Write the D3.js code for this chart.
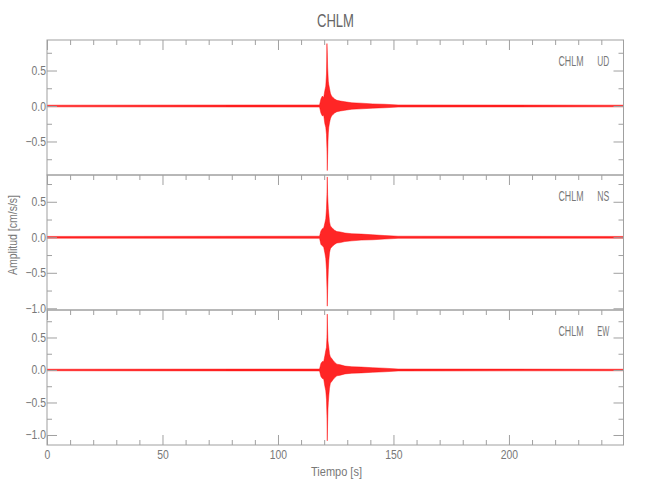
<!DOCTYPE html>
<html>
<head>
<meta charset="utf-8">
<script src="https://cdn.jsdelivr.net/npm/d3@7/dist/d3.min.js"></script>
<style>
  body { margin: 0; background: #fff; }
  svg { display: block; }
  text { font-family: "Liberation Sans", Arial, sans-serif; }
</style>
</head>
<body>
<svg id="chart" width="650" height="500"></svg>
<script>
// ---------------- data ----------------
const STATION = "CHLM";
const COMPONENTS = ["UD", "NS", "EW"];
const X_RANGE = [0, 249.6];
const Y_MIN = [-0.972, -1.024, -1.154];
const Y_MAX = [0.93, 0.877, 0.923];
const X_MAJOR = [0, 50, 100, 150, 200];
const Y_MAJOR = [-1.0, -0.5, 0.0, 0.5];
const Y_MINOR = [-0.75, -0.25, 0.25, 0.75];

// envelope of the traces (time in s, upper / lower amplitude in cm/s/s)
const TIME = [0, 118.0, 118.6, 119.2, 119.8, 120.3, 120.7, 121.0, 121.2, 121.35, 121.5, 121.65, 121.8, 122.0, 122.3, 122.7, 123.2, 123.8, 124.5, 125.5, 127, 129, 132, 136, 141, 146, 152, 249.6];
const UD_UP = [0.012, 0.015, 0.10, 0.14, 0.12, 0.22, 0.28, 0.45, 0.88, 0.75, 0.55, 0.45, 0.35, 0.30, 0.25, 0.18, 0.14, 0.12, 0.10, 0.08, 0.07, 0.06, 0.045, 0.04, 0.03, 0.025, 0.015, 0.012];
const UD_LO = [-0.012, -0.015, -0.10, -0.14, -0.13, -0.25, -0.30, -0.40, -0.60, -0.91, -0.70, -0.50, -0.38, -0.30, -0.24, -0.18, -0.14, -0.12, -0.10, -0.08, -0.07, -0.06, -0.045, -0.04, -0.03, -0.025, -0.015, -0.012];
const NS_UP = [0.012, 0.015, 0.09, 0.12, 0.13, 0.20, 0.26, 0.40, 0.60, 0.85, 0.60, 0.50, 0.40, 0.33, 0.22, 0.16, 0.14, 0.12, 0.10, 0.08, 0.075, 0.06, 0.05, 0.045, 0.035, 0.025, 0.015, 0.012];
const NS_LO = [-0.012, -0.015, -0.10, -0.12, -0.14, -0.22, -0.30, -0.45, -0.70, -0.97, -0.75, -0.60, -0.45, -0.33, -0.22, -0.16, -0.14, -0.12, -0.10, -0.08, -0.075, -0.06, -0.05, -0.04, -0.035, -0.025, -0.015, -0.012];
const EW_UP = [0.012, 0.015, 0.10, 0.13, 0.13, 0.22, 0.30, 0.35, 0.50, 0.86, 0.60, 0.45, 0.40, 0.35, 0.25, 0.20, 0.18, 0.15, 0.12, 0.09, 0.08, 0.06, 0.05, 0.045, 0.035, 0.028, 0.015, 0.012];
const EW_LO = [-0.012, -0.015, -0.10, -0.13, -0.14, -0.25, -0.32, -0.45, -0.70, -1.09, -0.80, -0.60, -0.50, -0.40, -0.28, -0.20, -0.18, -0.15, -0.12, -0.09, -0.08, -0.06, -0.05, -0.045, -0.035, -0.028, -0.015, -0.012];
const UPPER = [UD_UP, NS_UP, EW_UP];
const LOWER = [UD_LO, NS_LO, EW_LO];

// ---------------- layout ----------------
const svg = d3.select("#chart");
const left = 47, right = 623.5;
const panelTop = [40, 175, 310];
const panelH = 135;
const axisColor = "#a0a0a0";
const textColor = "#787878";

const x = d3.scaleLinear().domain(X_RANGE).range([left, right]);
const xMinor = d3.range(0, 250, 10).filter(v => !X_MAJOR.includes(v));
const fmt = d3.format(".1f");

function squeeze(sel, f) {
  sel.each(function () {
    const w = this.getComputedTextLength();
    d3.select(this).attr("textLength", w * f).attr("lengthAdjust", "spacingAndGlyphs");
  });
}

svg.append("text")
  .attr("x", 335.5).attr("y", 27.3)
  .attr("text-anchor", "middle")
  .attr("font-size", 18).attr("fill", "#666")
  .attr("textLength", 37).attr("lengthAdjust", "spacingAndGlyphs")
  .text(STATION);

function styleAxis(g) {
  g.select(".domain").remove();
  g.selectAll("line").attr("stroke", axisColor).attr("stroke-width", 1);
  g.selectAll("text").attr("fill", textColor).attr("font-size", 12.5);
  squeeze(g.selectAll("text"), 0.83);
}

COMPONENTS.forEach((comp, i) => {
  const top = panelTop[i], bot = top + panelH;
  const y = d3.scaleLinear().domain([Y_MIN[i], Y_MAX[i]]).range([bot, top]);
  const g = svg.append("g");

  const clipId = "clip" + i;
  g.append("clipPath").attr("id", clipId)
    .append("rect").attr("x", left).attr("y", top).attr("width", right - left).attr("height", panelH);

  const rows = TIME.map((t, k) => ({ t, hi: UPPER[i][k], lo: LOWER[i][k] }));
  const area = d3.area().x(d => x(d.t)).y0(d => y(d.lo)).y1(d => y(d.hi));
  g.append("path").datum(rows)
    .attr("clip-path", `url(#${clipId})`)
    .attr("d", area)
    .attr("fill", "#ff0000").attr("fill-opacity", 0.85)
    .attr("stroke", "#ff0000").attr("stroke-width", 0.5).attr("stroke-opacity", 0.9);

  // left axis
  const yl = g.append("g").attr("transform", `translate(${left},0)`)
    .call(d3.axisLeft(y).tickValues(Y_MAJOR.filter(v => v >= Y_MIN[i] && v <= Y_MAX[i]))
      .tickSize(-10).tickSizeOuter(0).tickPadding(1).tickFormat(fmt));
  styleAxis(yl);
  const ylm = g.append("g").attr("transform", `translate(${left},0)`)
    .call(d3.axisLeft(y).tickValues(Y_MINOR).tickSize(-5).tickSizeOuter(0).tickFormat(""));
  styleAxis(ylm);
  // right axis
  const yr = g.append("g").attr("transform", `translate(${right},0)`)
    .call(d3.axisRight(y).tickValues(Y_MAJOR.filter(v => v >= Y_MIN[i] && v <= Y_MAX[i]))
      .tickSize(-10).tickSizeOuter(0).tickFormat(""));
  styleAxis(yr);
  const yrm = g.append("g").attr("transform", `translate(${right},0)`)
    .call(d3.axisRight(y).tickValues(Y_MINOR).tickSize(-5).tickSizeOuter(0).tickFormat(""));
  styleAxis(yrm);
  // top axis (ticks inward)
  const xt = g.append("g").attr("transform", `translate(0,${top})`)
    .call(d3.axisTop(x).tickValues(X_MAJOR).tickSize(-10).tickSizeOuter(0).tickFormat(""));
  styleAxis(xt);
  const xtm = g.append("g").attr("transform", `translate(0,${top})`)
    .call(d3.axisTop(x).tickValues(xMinor).tickSize(-5).tickSizeOuter(0).tickFormat(""));
  styleAxis(xtm);

  if (i === COMPONENTS.length - 1) {
    const xb = g.append("g").attr("transform", `translate(0,${bot})`)
      .call(d3.axisBottom(x).tickValues(X_MAJOR).tickSize(-10).tickSizeOuter(0).tickPadding(5.6).tickFormat(d3.format("d")));
    styleAxis(xb);
    const xbm = g.append("g").attr("transform", `translate(0,${bot})`)
      .call(d3.axisBottom(x).tickValues(xMinor).tickSize(-5).tickSizeOuter(0).tickFormat(""));
    styleAxis(xbm);
  }

  // frame
  g.append("rect").attr("x", left).attr("y", top).attr("width", right - left).attr("height", panelH)
    .attr("fill", "none").attr("stroke", axisColor).attr("stroke-width", 1);

  // panel label
  g.append("text").attr("x", 558.5).attr("y", top + 26)
    .attr("font-size", 14).attr("fill", textColor)
    .attr("textLength", 25).attr("lengthAdjust", "spacingAndGlyphs").text(STATION);
  g.append("text").attr("x", 597.3).attr("y", top + 26)
    .attr("font-size", 14).attr("fill", textColor)
    .attr("textLength", 12).attr("lengthAdjust", "spacingAndGlyphs").text(comp);
});

// axis titles
svg.append("text")
  .attr("x", 336.5).attr("y", 476)
  .attr("text-anchor", "middle").attr("font-size", 13).attr("fill", textColor)
  .attr("textLength", 51).attr("lengthAdjust", "spacingAndGlyphs")
  .text("Tiempo [s]");
svg.append("text")
  .attr("transform", "translate(17,235) rotate(-90)")
  .attr("text-anchor", "middle").attr("font-size", 12).attr("fill", textColor)
  .attr("textLength", 80).attr("lengthAdjust", "spacingAndGlyphs")
  .text("Amplitud [cm/s/s]");
</script>
</body>
</html>
